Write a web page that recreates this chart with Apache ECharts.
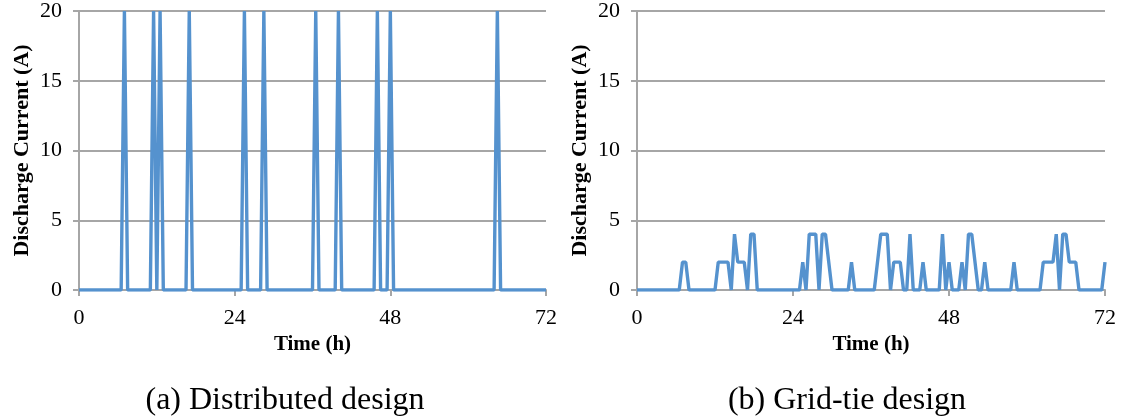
<!DOCTYPE html>
<html>
<head>
    <meta charset="utf-8">
    <title>Discharge current</title>
    <script src="https://cdn.jsdelivr.net/npm/echarts@6/dist/echarts.min.js"></script>
    <style>
        html, body { margin: 0; padding: 0; background: #fff; }
        #chart { width: 1127px; height: 416px; }
    </style>
</head>
<body>
<div id="chart"></div>
<script type="text/javascript">
    // half-hour samples, 0 .. 72 h (145 points), one row = 6 hours
    var stepHours = 0.5;
    var distributed = [
        0,0,0,0,0,0,0,0,0,0,0,0,
        0,0,20,0,0,0,0,0,0,0,0,20,
        0,20,0,0,0,0,0,0,0,0,20,0,
        0,0,0,0,0,0,0,0,0,0,0,0,
        0,0,0,20,0,0,0,0,0,20,0,0,
        0,0,0,0,0,0,0,0,0,0,0,0,
        0,20,0,0,0,0,0,0,20,0,0,0,
        0,0,0,0,0,0,0,0,20,0,0,0,
        20,0,0,0,0,0,0,0,0,0,0,0,
        0,0,0,0,0,0,0,0,0,0,0,0,
        0,0,0,0,0,0,0,0,0,20,0,0,
        0,0,0,0,0,0,0,0,0,0,0,0,
        0
    ];
    var gridTie = [
        0,0,0,0,0,0,0,0,0,0,0,0,
        0,0,2,2,0,0,0,0,0,0,0,0,
        0,2,2,2,2,0,4,2,2,2,0,4,
        4,0,0,0,0,0,0,0,0,0,0,0,
        0,0,0,2,0,4,4,4,0,4,4,2,
        0,0,0,0,0,0,2,0,0,0,0,0,
        0,0,2,4,4,4,0,2,2,2,0,0,
        4,0,0,0,2,0,0,0,0,0,4,0,
        2,0,0,0,2,0,4,4,2,0,0,2,
        0,0,0,0,0,0,0,0,2,0,0,0,
        0,0,0,0,0,2,2,2,2,4,0,4,
        4,2,2,2,0,0,0,0,0,0,0,0,
        2
    ];
    var xTicks = [0, 24, 48, 72];
    var yTicks = [0, 5, 10, 15, 20];
    var captions = ['(a) Distributed design', '(b) Grid-tie design'];

    function pairs(values) {
        return values.map(function (v, i) { return [i * stepHours, v]; });
    }

    var serif = '"Liberation Serif", "Times New Roman", serif';
    var gray = '#a6a6a6';
    var blue = '#5592ce';

    function xAxis(idx) {
        return {
            gridIndex: idx, type: 'value',
            min: xTicks[0], max: xTicks[xTicks.length - 1], interval: 24,
            name: 'Time (h)', nameLocation: 'middle', nameGap: 42,
            nameTextStyle: { fontFamily: serif, fontWeight: 'bold', fontSize: 21, color: '#000' },
            axisLine: { lineStyle: { color: gray, width: 2 } },
            axisTick: { show: true, length: 6, lineStyle: { color: gray, width: 2 } },
            axisLabel: { fontFamily: serif, fontSize: 22, color: '#000', margin: 17 },
            splitLine: { show: false }
        };
    }
    function yAxis(idx) {
        return {
            gridIndex: idx, type: 'value',
            min: yTicks[0], max: yTicks[yTicks.length - 1], interval: 5,
            name: 'Discharge Current (A)', nameLocation: 'middle', nameGap: 46,
            nameTextStyle: { fontFamily: serif, fontWeight: 'bold', fontSize: 22, color: '#000' },
            axisLine: { show: true, lineStyle: { color: gray, width: 2 } },
            axisTick: { show: true, length: 6, lineStyle: { color: gray, width: 2 } },
            axisLabel: { fontFamily: serif, fontSize: 22, color: '#000', margin: 17 },
            splitLine: { show: true, lineStyle: { color: gray, width: 2 } }
        };
    }
    function series(idx, values) {
        return {
            type: 'line', xAxisIndex: idx, yAxisIndex: idx,
            data: pairs(values), showSymbol: false, symbol: 'none',
            lineStyle: { color: blue, width: 3.4 }, animation: false
        };
    }

    var chart = echarts.init(document.getElementById('chart'));
    chart.setOption({
        animation: false,
        title: [
            { text: captions[0], left: 280, top: 380, textAlign: 'center',
              textStyle: { fontFamily: serif, fontWeight: 'normal', fontSize: 32, color: '#000' } },
            { text: captions[1], left: 842, top: 380, textAlign: 'center',
              textStyle: { fontFamily: serif, fontWeight: 'normal', fontSize: 32, color: '#000' } }
        ],
        grid: [
            { left: 79, right: 581, top: 11, bottom: 126 },
            { left: 637, right: 22, top: 11, bottom: 126 }
        ],
        xAxis: [xAxis(0), xAxis(1)],
        yAxis: [yAxis(0), yAxis(1)],
        series: [series(0, distributed), series(1, gridTie)]
    });
</script>
</body>
</html>
